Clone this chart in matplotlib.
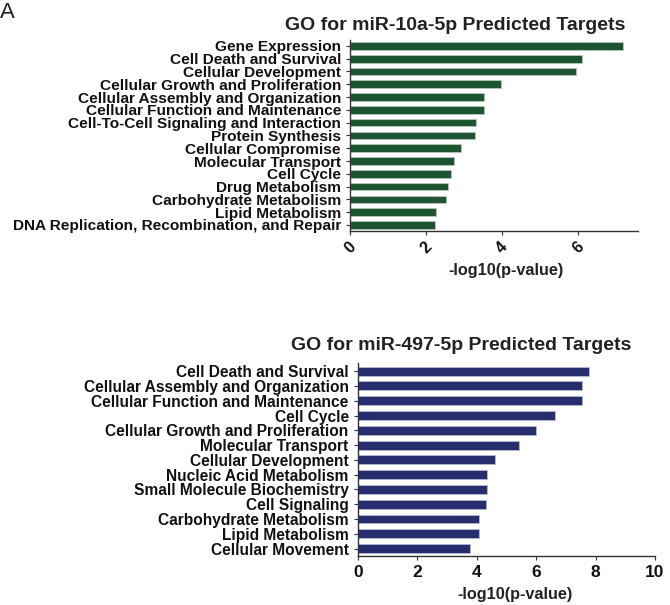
import matplotlib
matplotlib.use("Agg")
import matplotlib.pyplot as plt

plt.rcParams['font.family'] = ['Liberation Sans', 'DejaVu Sans']

top_title = "GO for miR-10a-5p Predicted Targets"
top_categories = [
    "Gene Expression", "Cell Death and Survival", "Cellular Development",
    "Cellular Growth and Proliferation", "Cellular Assembly and Organization",
    "Cellular Function and Maintenance", "Cell-To-Cell Signaling and Interaction",
    "Protein Synthesis", "Cellular Compromise", "Molecular Transport",
    "Cell Cycle", "Drug Metabolism", "Carbohydrate Metabolism",
    "Lipid Metabolism", "DNA Replication, Recombination, and Repair",
]
top_values = [7.18, 6.10, 5.94, 3.98, 3.52, 3.52, 3.32, 3.29, 2.91, 2.73,
              2.65, 2.58, 2.52, 2.26, 2.23]
top_ticks = [0, 2, 4, 6]

bot_title = "GO for miR-497-5p Predicted Targets"
bot_categories = [
    "Cell Death and Survival", "Cellular Assembly and Organization",
    "Cellular Function and Maintenance", "Cell Cycle",
    "Cellular Growth and Proliferation", "Molecular Transport",
    "Cellular Development", "Nucleic Acid Metabolism",
    "Small Molecule Biochemistry", "Cell Signaling",
    "Carbohydrate Metabolism", "Lipid Metabolism", "Cellular Movement",
]
bot_values = [7.77, 7.55, 7.55, 6.65, 6.00, 5.44, 4.63, 4.36, 4.36, 4.30,
              4.08, 4.08, 3.77]
bot_ticks = [0, 2, 4, 6, 8, 10]

xlabel = "-log10(p-value)"

W, H = 670, 605
fig = plt.figure(figsize=(W / 100, H / 100), dpi=100)


def px_axes(left, top, right, bottom):
    return fig.add_axes([left / W, 1 - bottom / H, (right - left) / W, (bottom - top) / H])


def style(ax):
    for s in ("top", "right"):
        ax.spines[s].set_visible(False)
    for s in ("left", "bottom"):
        ax.spines[s].set_color("#333333")
        ax.spines[s].set_linewidth(1.0)
    ax.tick_params(axis="both", length=3, width=0.8, color="#333333")


# top chart
ax1 = px_axes(350, 40, 638, 231)
y1 = list(range(len(top_categories)))
ax1.barh(y1, top_values, height=0.6, color="#1c5530", edgecolor="#b8c8bc", linewidth=0.6)
ax1.set_yticks(y1)
ax1.set_yticklabels(top_categories, fontsize=11.1, fontweight="bold", color="#111111")
ax1.set_ylim(14.47, -0.46)
ax1.set_xlim(0, 7.58)
ax1.set_xticks(top_ticks)
ax1.set_xticklabels([str(t) for t in top_ticks], fontsize=11.5, fontweight="bold",
                    rotation=45, ha="center", va="top", color="#111111")
style(ax1)
ax1.tick_params(axis="x", pad=3)
fig.text(455 / W, 1 - 25 / H, top_title, fontsize=14, fontweight="bold",
         ha="center", va="center", color="#222222")
fig.text(506 / W, 1 - 271 / H, xlabel, fontsize=11.7, fontweight="bold",
         ha="center", va="center", color="#222222")

# bottom chart
ax2 = px_axes(357.7, 363, 655, 556)
y2 = list(range(len(bot_categories)))
ax2.barh(y2, bot_values, height=0.6, color="#262e6e", edgecolor="#b4b8d4", linewidth=0.6)
ax2.set_yticks(y2)
ax2.set_yticklabels(bot_categories, fontsize=11.2, fontweight="bold", color="#111111")
ax2.set_ylim(12.5, -0.55)
ax2.set_xlim(0, 10)
ax2.set_xticks(bot_ticks)
ax2.set_xticklabels([str(t) for t in bot_ticks], fontsize=12.5, fontweight="bold",
                    color="#111111")
style(ax2)
fig.text(461 / W, 1 - 345 / H, bot_title, fontsize=14, fontweight="bold",
         ha="center", va="center", color="#222222")
fig.text(515 / W, 1 - 594 / H, xlabel, fontsize=11.7, fontweight="bold",
         ha="center", va="center", color="#222222")

fig.text(0 / W, 1 - 13 / H, "A", fontsize=16, fontweight="light", ha="left", va="center",
         color="#222222")

fig.savefig("out.png", dpi=100)
